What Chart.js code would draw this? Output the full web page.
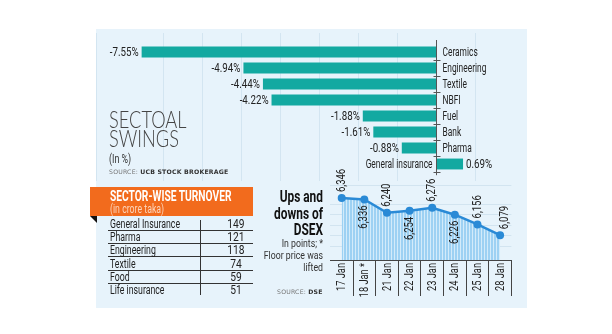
<!DOCTYPE html>
<html lang="en">
<head>
<meta charset="UTF-8">
<title>Sectoral swings and DSEX</title>
<script src="https://cdn.jsdelivr.net/npm/chart.js"></script>
<style>
  body { margin: 0; background: #fff; width: 612px; height: 334px; position: relative; overflow: hidden;
         font-family: Roboto, sans-serif; color: #222; }
  #panel { position: absolute; left: 96px; top: 29px; width: 431px; height: 279px; background: #e7f3fb; }
  .abs { position: absolute; white-space: nowrap; }
  #title { left: 109px; top: 110px; font-family: Lato, "Open Sans", sans-serif; font-weight: 300; font-size: 24px; line-height: 18.5px; color: #444; transform: scaleX(0.76); transform-origin: left top; }
  #inpct { left: 109px; top: 152px; font-size: 12px; color: #333; transform: scaleX(0.74); transform-origin: left top; }
  .src { font-family: "DejaVu Sans", sans-serif; font-size: 6.2px; color: #777; letter-spacing: 0.2px; }
  .src b { color: #333; }
  #orange { left: 90px; top: 187px; width: 163px; height: 29px; background: #f26b1d; }
  #orange .h { position: absolute; left: 20px; top: 0px; font-weight: bold; font-size: 15.5px; color: #fff; transform: scaleX(0.66); transform-origin: left top; white-space: nowrap; }
  #orange .s { position: absolute; left: 20px; top: 14px; font-size: 12.5px; color: #fcd6bd; transform: scaleX(0.7); transform-origin: left top; white-space: nowrap; }
  #fold { left: 90px; top: 216px; width: 0; height: 0; border-top: 7px solid #111; border-left: 7px solid transparent; }
  .row { position: absolute; left: 108px; width: 145px; height: 13px; font-size: 12.5px; line-height: 13px; }
  .row .n { position: absolute; left: 2px; top: 0; transform: scaleX(0.7); transform-origin: left top; white-space: nowrap; }
  .row .v { position: absolute; left: 108px; width: 40px; text-align: center; top: 0; transform: scaleX(0.82); }
  .row.line { border-bottom: 1px solid #333; }
  #vsep { left: 200px; top: 220px; width: 1px; height: 75px; background: #333; }
  #ups { left: 200px; top: 188px; width: 123px; text-align: right; font-weight: bold; font-size: 17px; line-height: 16.5px; color: #111; transform: scaleX(0.7); transform-origin: right top; }
  #note { left: 200px; top: 237px; width: 123px; text-align: right; font-size: 11.5px; line-height: 12px; color: #333; transform: scaleX(0.76); transform-origin: right top; }
  canvas { position: absolute; }
</style>
</head>
<body>
<div id="panel"></div>
<canvas id="bars" width="431" height="152" style="left:96px;top:29px;width:431px;height:152px"></canvas>
<div class="abs" id="title">SECTOAL<br>SWINGS</div>
<div class="abs" id="inpct">(In %)</div>
<div class="abs src" style="left:109px;top:168px">SOURCE: <b>UCB STOCK BROKERAGE</b></div>

<div class="abs" id="orange"><div class="h">SECTOR-WISE TURNOVER</div><div class="s">(in crore taka)</div></div>
<div class="abs" id="fold"></div>
<div id="table"></div>
<div class="abs" id="vsep"></div>

<div class="abs" id="ups">Ups and<br>downs of<br>DSEX</div>
<div class="abs" id="note">In points; *<br>Floor price was<br>lifted</div>
<div class="abs src" style="left:277px;top:288px">SOURCE: <b>DSE</b></div>

<canvas id="dsex" width="200" height="150" style="left:320px;top:150px;width:200px;height:150px"></canvas>

<script>
// sectoral swings (%)
const sectors = ['Ceramics', 'Engineering', 'Textile', 'NBFI', 'Fuel', 'Bank', 'Pharma', 'General insurance'];
const swings = [-7.55, -4.94, -4.44, -4.22, -1.88, -1.61, -0.88, 0.69];

// sector-wise turnover (crore taka)
const turnoverSectors = ['General Insurance', 'Pharma', 'Engineering', 'Textile', 'Food', 'Life insurance'];
const turnover = [149, 121, 118, 74, 59, 51];

// DSEX
const days = ['17 Jan', '18 Jan *', '21 Jan', '22 Jan', '23 Jan', '24 Jan', '25 Jan', '28 Jan'];
const dsex = [6346, 6336, 6240, 6254, 6276, 6226, 6156, 6079];
const labelSide = ['up', 'down', 'up', 'down', 'up', 'down', 'up', 'up'];

const FONT = 'Roboto, sans-serif';

// narrow text: squeeze along the text direction
function squeezed(ctx, txt, x, y, align, sx, angle) {
    ctx.save();
    ctx.translate(x, y);
    if (angle) ctx.rotate(angle);
    ctx.scale(sx, 1);
    ctx.textAlign = align;
    ctx.fillText(txt, 0, 0);
    ctx.restore();
}

// turnover table
const table = document.getElementById('table');
turnoverSectors.forEach((s, i) => {
    const r = document.createElement('div');
    r.className = 'row' + (i < turnoverSectors.length - 1 ? ' line' : '');
    r.style.top = (217 + i * 13.2) + 'px';
    r.innerHTML = '<span class="n">' + s + '</span><span class="v">' + turnover[i] + '</span>';
    table.appendChild(r);
});

// bar chart: labels, zero axis and full-height gridlines
const barDecor = {
    id: 'barDecor',
    beforeDatasetsDraw(chart) {
        const ctx = chart.ctx, xs = chart.scales.x;
        ctx.save();
        ctx.strokeStyle = '#d3e5f1';
        ctx.lineWidth = 1;
        xs.ticks.forEach(t => {
            if (t.value === 0) return;
            const x = Math.round(xs.getPixelForValue(t.value)) + 0.5;
            ctx.beginPath(); ctx.moveTo(x, 4); ctx.lineTo(x, chart.height); ctx.stroke();
        });
        ctx.restore();
    },
    afterDatasetsDraw(chart) {
        const ctx = chart.ctx, xs = chart.scales.x, ys = chart.scales.y;
        const x0 = Math.round(xs.getPixelForValue(0)) + 0.5;
        const step = ys.getPixelForValue(1) - ys.getPixelForValue(0);
        ctx.save();
        ctx.strokeStyle = '#555';
        ctx.lineWidth = 1;
        ctx.beginPath();
        ctx.moveTo(x0, ys.getPixelForValue(0) - step * 0.75);
        ctx.lineTo(x0, ys.getPixelForValue(sectors.length - 1) + step * 0.7);
        for (let i = 0; i < sectors.length; i++) {
            const y = Math.round(ys.getPixelForValue(i) + step / 2) + 0.5;
            ctx.moveTo(x0 - 3, y); ctx.lineTo(x0 + 4, y);
        }
        ctx.stroke();
        ctx.font = '12.5px ' + FONT;
        ctx.fillStyle = '#222';
        ctx.textBaseline = 'middle';
        swings.forEach((v, i) => {
            const y = ys.getPixelForValue(i) + 0.5;
            const xe = xs.getPixelForValue(v);
            const txt = v.toFixed(2) + '%';
            if (v < 0) {
                squeezed(ctx, txt, xe - 3, y, 'right', 0.78);
                squeezed(ctx, sectors[i], x0 + 6, y, 'left', 0.67);
            } else {
                squeezed(ctx, sectors[i], x0 - 4, y, 'right', 0.67);
                squeezed(ctx, txt, xe + 3, y, 'left', 0.78);
            }
        });
        ctx.restore();
    }
};

new Chart(document.getElementById('bars'), {
    type: 'bar',
    data: {
        labels: sectors,
        datasets: [{ data: swings, backgroundColor: '#13a9a1', barPercentage: 0.68, categoryPercentage: 1 }]
    },
    options: {
        indexAxis: 'y',
        responsive: false,
        animation: false,
        layout: { padding: { top: 15, bottom: 9, left: 0, right: 0 } },
        plugins: { legend: { display: false }, tooltip: { enabled: false } },
        scales: {
            x: {
                min: -8.72, max: 2.33,
                ticks: { display: false, stepSize: 1 },
                grid: { display: false }, border: { display: false },
                afterFit: s => { s.height = 0; }
            },
            y: { display: false }
        }
    },
    plugins: [barDecor]
});

// DSEX line chart
const stripes = document.createElement('canvas');
stripes.width = 3; stripes.height = 4;
const sctx = stripes.getContext('2d');
sctx.fillStyle = '#d3ebfa'; sctx.fillRect(0, 0, 3, 4);
sctx.fillStyle = '#9dd1f3'; sctx.fillRect(0, 0, 2, 4);
const stripePattern = sctx.createPattern(stripes, 'repeat');

const dsexText = {
    id: 'dsexText',
    afterDraw(chart) {
        const ctx = chart.ctx, meta = chart.getDatasetMeta(0), xs = chart.scales.x;
        const up = -Math.PI / 2;
        ctx.save();
        ctx.font = '12.5px ' + FONT;
        ctx.fillStyle = '#222';
        ctx.textBaseline = 'middle';
        meta.data.forEach((p, i) => {
            const txt = dsex[i].toLocaleString('en-US');
            if (labelSide[i] === 'up') {
                squeezed(ctx, txt, p.x + (i === dsex.length - 1 ? 5 : 0), p.y - 6, 'left', 0.76, up);
            } else {
                squeezed(ctx, txt, p.x, p.y + 6, 'right', 0.76, up);
            }
        });
        // category labels below the axis
        days.forEach((d, i) => {
            squeezed(ctx, d, xs.getPixelForValue(i) + 0.5, xs.top + 3, 'right', 0.74, up);
        });
        ctx.restore();
    }
};

new Chart(document.getElementById('dsex'), {
    type: 'line',
    data: {
        labels: days,
        datasets: [{
            data: dsex,
            borderColor: '#2a8ad6',
            borderWidth: 2.5,
            backgroundColor: stripePattern,
            fill: 'start',
            tension: 0,
            pointRadius: 4,
            pointBackgroundColor: '#2a8ad6',
            pointBorderWidth: 0
        }]
    },
    options: {
        responsive: false,
        animation: false,
        layout: { padding: { top: 35, bottom: 0, left: 10.4, right: 8.6 } },
        plugins: { legend: { display: false }, tooltip: { enabled: false } },
        scales: {
            x: {
                offset: true,
                grid: {
                    offset: true, drawOnChartArea: false, tickLength: 36,
                    color: c => (c.index === 0 || c.index === days.length) ? 'rgba(0,0,0,0)' : '#444'
                },
                border: { color: '#444', width: 1 },
                ticks: { display: false },
                afterFit: s => { s.height = 40; }
            },
            y: {
                min: 5900, max: 6440,
                ticks: { display: false, stepSize: 75 },
                grid: { color: '#d2e4f0', drawTicks: false },
                border: { display: false },
                afterFit: s => { s.width = 0; }
            }
        }
    },
    plugins: [dsexText]
});
</script>
</body>
</html>
